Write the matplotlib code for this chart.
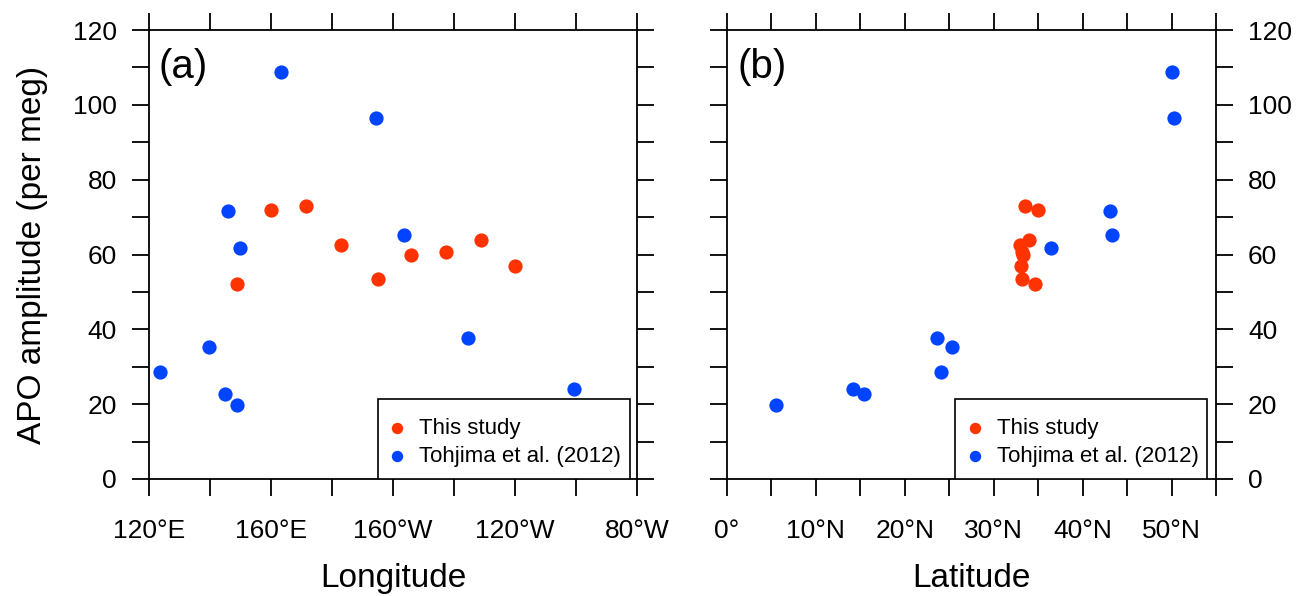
import matplotlib
matplotlib.use("Agg")
import matplotlib.pyplot as plt
from matplotlib.patches import Rectangle
from matplotlib.ticker import MultipleLocator, FuncFormatter

plt.rcParams['font.family'] = ['Liberation Sans', 'DejaVu Sans']

# This study (ship observations)
this_lon = [149, 160, 171.5, 183, 195, 206, 217.5, 229, 240]   # degrees east (0-360)
this_lat = [34.6, 35.0, 33.5, 33.0, 33.2, 33.3, 33.2, 34.0, 33.1]
this_amp = [52.0, 72.0, 73.0, 62.5, 53.5, 59.9, 60.6, 63.8, 57.0]

# Tohjima et al. (2012)
toh_lon = [123.6, 139.7, 144.9, 145.9, 148.9, 149.8, 163.3, 194.4, 203.6, 224.6, 259.3]
toh_lat = [24.1, 25.3, 15.4, 43.1, 5.5, 36.4, 50.1, 50.3, 43.3, 23.6, 14.2]
toh_amp = [28.6, 35.3, 22.7, 71.6, 19.8, 61.7, 108.8, 96.5, 65.2, 37.7, 24.1]

red = '#FF3300'
blue = '#0044FF'


def lon_fmt(v, pos):
    v = int(round(v))
    if v == 0 or v == 180:
        return f"{v}°"
    if v < 180:
        return f"{v}°E"
    return f"{360 - v}°W"


def lat_fmt(v, pos):
    v = int(round(v))
    return "0°" if v == 0 else f"{v}°N"


fig = plt.figure(figsize=(13, 5.96), dpi=100)
ax1 = fig.add_axes([149 / 1300, 117 / 596, 488 / 1300, 449 / 596])
ax2 = fig.add_axes([727 / 1300, 117 / 596, 489 / 1300, 449 / 596])

# legend box (x0, x1 in axes coords) and legend anchor
legend_pos = {ax1: (0.469, 0.986, 0.488), ax2: (0.466, 0.982, 0.487)}

for ax, xs1, xs2 in [(ax1, this_lon, toh_lon), (ax2, this_lat, toh_lat)]:
    ax.scatter(xs1, this_amp, s=105, color=red, zorder=3, label='This study', linewidths=0)
    ax.scatter(xs2, toh_amp, s=105, color=blue, zorder=3, label='Tohjima et al. (2012)', linewidths=0)
    ax.set_ylim(0, 120)
    ax.yaxis.set_major_locator(MultipleLocator(10))
    ax.yaxis.set_major_formatter(FuncFormatter(lambda v, p: f"{int(v)}" if int(v) % 20 == 0 else ""))
    for s in ax.spines.values():
        s.set_linewidth(1.3)
    ax.tick_params(direction='out', length=12, width=1.3, labelsize=19,
                   top=True, right=True)
    ax.tick_params(axis='y', pad=11)
    ax.tick_params(axis='x', pad=17)

    x0, x1, xl = legend_pos[ax]
    ax.add_patch(Rectangle((x0, 0), x1 - x0, 0.178, transform=ax.transAxes,
                           facecolor='white', edgecolor='black', linewidth=1.2, zorder=4))
    leg = ax.legend(loc='center left', bbox_to_anchor=(xl, 0.082), borderaxespad=0,
                    fontsize=16, frameon=False, borderpad=0,
                    markerscale=0.8, handletextpad=0.55,
                    labelspacing=0.3, handlelength=0.9)
    leg.set_zorder(5)

ax1.set_xlim(120, 280)
ax1.xaxis.set_major_locator(MultipleLocator(20))
ax1.xaxis.set_major_formatter(FuncFormatter(lambda v, p: lon_fmt(v, p) if int(round(v)) % 40 == 0 else ""))
ax1.set_ylabel('APO amplitude (per meg)', fontsize=24, labelpad=18)
ax1.set_xlabel('Longitude', fontsize=24, labelpad=14)
ax1.text(0.02, 0.918, '(a)', transform=ax1.transAxes, fontsize=29, va='center', ha='left')

ax2.set_xlim(0, 55)
ax2.xaxis.set_major_locator(MultipleLocator(5))
ax2.xaxis.set_major_formatter(FuncFormatter(lambda v, p: lat_fmt(v, p) if int(round(v)) % 10 == 0 else ""))
ax2.tick_params(labelleft=False, labelright=True)
ax2.set_xlabel('Latitude', fontsize=24, labelpad=14)
ax2.text(0.022, 0.918, '(b)', transform=ax2.transAxes, fontsize=29, va='center', ha='left')

fig.savefig("out.png", dpi=100)
plt.close(fig)
